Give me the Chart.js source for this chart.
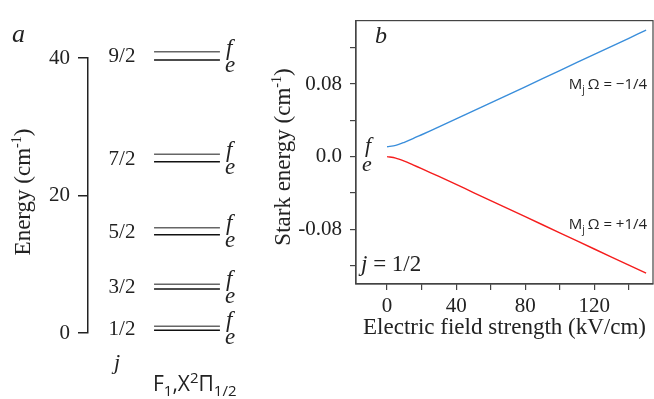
<!DOCTYPE html>
<html>
<head>
<meta charset="utf-8">
<script src="https://cdn.jsdelivr.net/npm/chart.js@4/dist/chart.umd.min.js"></script>
<style>
  html, body { margin: 0; padding: 0; background: #fff; }
  #wrap { position: relative; width: 654px; height: 399px; overflow: hidden; }
  #left { position: absolute; left: 0; top: 0; width: 260px; height: 399px; }
  #right { position: absolute; left: 260px; top: 0; width: 394px; height: 399px; }
</style>
</head>
<body>
<div id="wrap">
  <div id="left"><canvas id="levels"></canvas></div>
  <div id="right"><canvas id="stark"></canvas></div>
</div>
<script>
// panel a: rotational levels (cm-1), e and f parity components
const J_LABELS = ['1/2', '3/2', '5/2', '7/2', '9/2'];
const E_LEVELS = [0.4, 6.4, 14.3, 24.9, 39.7];
const F_LEVELS = [1.0, 7.1, 15.3, 26.0, 40.9];
const ENERGY_TICKS = [0, 20, 40];

// panel b: Stark shift of j = 1/2 vs field (kV/cm)
const FIELD = [0, 5, 10, 15, 20, 30, 40, 50, 60, 80, 100, 120, 140, 150];
const STARK_UP = [0.0108, 0.0124, 0.0158, 0.0198, 0.0241, 0.0327, 0.0415, 0.0504, 0.0593, 0.0770, 0.0949, 0.1127, 0.1305, 0.1395];
const STARK_DOWN = [0, -0.0016, -0.0050, -0.0091, -0.0133, -0.0219, -0.0307, -0.0396, -0.0485, -0.0662, -0.0841, -0.1019, -0.1197, -0.1286];
const FIELD_TICKS = [0, 20, 40, 60, 80, 100, 120, 140];
const FIELD_LABELS = [0, 40, 80, 120];
const STARK_TICKS = [-0.12, -0.08, -0.04, 0, 0.04, 0.08, 0.12];
const STARK_LABELS = [-0.08, 0, 0.08];

const SERIF = '"Liberation Serif", "Times New Roman", serif';
const SANS = '"Open Sans", "DejaVu Sans", sans-serif';
const INK = '#222';

// x extent of the level bars in the (hidden) 0..1 x scale
const BAR_X0 = 0.384;
const BAR_X1 = 0.767;

function levelDataset(y, color) {
  return {
    data: [{x: BAR_X0, y: y}, {x: BAR_X1, y: y}],
    borderColor: color,
    borderWidth: 1.5,
    pointRadius: 0,
    clip: false,
  };
}

const levelDatasets = [];
for (let i = 0; i < J_LABELS.length; i++) {
  levelDatasets.push(levelDataset(F_LEVELS[i], '#666'));
  levelDatasets.push(levelDataset(E_LEVELS[i], '#111'));
}

// rotated axis title with a real superscript: pieces are [text, size, raise]
function verticalTitle(ctx, cx, cy, pieces) {
  ctx.save();
  ctx.translate(cx, cy);
  ctx.rotate(-Math.PI / 2);
  ctx.fillStyle = INK;
  ctx.textAlign = 'left';
  ctx.textBaseline = 'alphabetic';
  let total = 0;
  for (const p of pieces) {
    ctx.font = p[1] + 'px ' + SERIF;
    total += ctx.measureText(p[0]).width;
  }
  let x = -total / 2;
  for (const p of pieces) {
    ctx.font = p[1] + 'px ' + SERIF;
    ctx.fillText(p[0], x, 8 - p[2]);
    x += ctx.measureText(p[0]).width;
  }
  ctx.restore();
}

function inlineText(ctx, x, base, pieces, family) {
  for (const p of pieces) {
    ctx.font = (p[3] || '') + p[1] + 'px ' + family;
    ctx.fillText(p[0], x, base - p[2]);
    x += ctx.measureText(p[0]).width;
  }
}

const levelText = {
  id: 'level_text',
  afterDraw: (chart) => {
    const ctx = chart.ctx;
    const ys = chart.scales.y;
    const xs = chart.scales.x;
    ctx.save();
    ctx.fillStyle = INK;
    for (let i = 0; i < J_LABELS.length; i++) {
      const yf = ys.getPixelForValue(F_LEVELS[i]);
      const ye = ys.getPixelForValue(E_LEVELS[i]);
      const mid = (yf + ye) / 2;
      ctx.font = '21px ' + SERIF;
      ctx.textAlign = 'center';
      ctx.textBaseline = 'middle';
      ctx.fillText(J_LABELS[i], 122, mid + 1);
      const xr = xs.getPixelForValue(BAR_X1);
      ctx.font = 'italic 23px ' + SERIF;
      ctx.textAlign = 'left';
      ctx.textBaseline = 'alphabetic';
      ctx.fillText('f', xr + 6, mid - 1);
      ctx.fillText('e', xr + 5, mid + 16);
    }
    ctx.font = 'italic 26px ' + SERIF;
    ctx.fillText('a', 12, 42);
    ctx.font = 'italic 22px ' + SERIF;
    ctx.fillText('j', 114, 369);

    // state label F1,X2Π1/2
    inlineText(ctx, 153, 391, [
      ['F', 21, 0], ['1', 15, -5], [',', 21, 0], ['X', 21, 0],
      ['2', 15, 8], ['Π', 21, 0], ['1/2', 15, -5]
    ], SANS);
    ctx.restore();

    verticalTitle(ctx, 22, 192, [['Energy (cm', 23, 0], ['-1', 14, 9], [')', 23, 0]]);
  }
};

new Chart(document.getElementById('levels'), {
  type: 'line',
  data: { datasets: levelDatasets },
  plugins: [levelText],
  options: {
    animation: false,
    responsive: true,
    maintainAspectRatio: false,
    layout: { padding: { top: 58, bottom: 66, left: 0, right: 0 } },
    plugins: { legend: { display: false }, tooltip: { enabled: false } },
    scales: {
      x: { type: 'linear', min: 0, max: 1, display: false },
      y: {
        type: 'linear',
        min: 0,
        max: 40,
        afterBuildTicks: (scale) => { scale.ticks = ENERGY_TICKS.map(v => ({value: v})); },
        afterFit: (scale) => { scale.width = 88; },
        grid: { drawOnChartArea: false, drawTicks: true, tickLength: 10, color: INK, lineWidth: 1.5 },
        border: { display: true, color: INK, width: 1.5 },
        ticks: { color: INK, padding: 8, font: { family: SERIF, size: 21 } },
        title: { display: false }
      }
    }
  }
});

function curve(values, color) {
  return {
    data: FIELD.map((f, i) => ({x: f, y: values[i]})),
    borderColor: color,
    borderWidth: 1.4,
    pointRadius: 0,
    tension: 0.3,
  };
}

function drawMOmega(ctx, xRight, yMid, tail) {
  const big = '15px ' + SANS;
  const small = '10px ' + SANS;
  ctx.font = big;
  const wM = ctx.measureText('M').width;
  const wT = ctx.measureText(tail).width;
  ctx.font = small;
  const wj = ctx.measureText('j').width;
  let x = xRight - (wM + wj + 3 + wT);
  ctx.textAlign = 'left';
  ctx.textBaseline = 'alphabetic';
  ctx.font = big;
  ctx.fillText('M', x, yMid + 5);
  x += wM;
  ctx.font = small;
  ctx.fillText('j', x, yMid + 9);
  x += wj + 3;
  ctx.font = big;
  ctx.fillText(tail, x, yMid + 5);
}

const starkText = {
  id: 'stark_text',
  afterDraw: (chart) => {
    const ctx = chart.ctx;
    const xs = chart.scales.x;
    const ys = chart.scales.y;
    const a = chart.chartArea;
    ctx.save();
    // frame
    ctx.strokeStyle = '#444';
    ctx.lineWidth = 1.2;
    ctx.strokeRect(a.left, a.top, a.right - a.left, a.bottom - a.top);

    ctx.fillStyle = INK;
    ctx.font = 'italic 24px ' + SERIF;
    ctx.textAlign = 'left';
    ctx.fillText('b', a.left + 19, 43);

    const x0 = xs.getPixelForValue(FIELD[0]);
    ctx.font = 'italic 22px ' + SERIF;
    ctx.fillText('f', x0 - 22, ys.getPixelForValue(STARK_UP[0]) + 5);
    ctx.fillText('e', x0 - 25, ys.getPixelForValue(STARK_DOWN[0]) + 14);

    inlineText(ctx, a.left + 5, 271, [['j', 23, 0, 'italic '], [' = 1/2', 23, 0]], SERIF);

    const xr = xs.getPixelForValue(150) + 1;
    drawMOmega(ctx, xr, ys.getPixelForValue(0.08), 'Ω = −1/4');
    drawMOmega(ctx, xr, ys.getPixelForValue(-0.074), 'Ω = +1/4');
    ctx.restore();

    verticalTitle(ctx, 22, 157, [['Stark energy (cm', 23, 0], ['-1', 14, 9], [')', 23, 0]]);
  }
};

new Chart(document.getElementById('stark'), {
  type: 'line',
  data: {
    datasets: [curve(STARK_UP, '#3a8edb'), curve(STARK_DOWN, '#f51d1d')]
  },
  plugins: [starkText],
  options: {
    animation: false,
    responsive: true,
    maintainAspectRatio: false,
    layout: { padding: { top: 15, right: 1, left: 0, bottom: 0 } },
    plugins: { legend: { display: false }, tooltip: { enabled: false } },
    scales: {
      x: {
        type: 'linear',
        min: -18,
        max: 154,
        afterBuildTicks: (scale) => { scale.ticks = FIELD_TICKS.map(v => ({value: v})); },
        afterFit: (scale) => { scale.height = 115; },
        grid: { drawOnChartArea: false, drawTicks: true, tickLength: 6, color: '#444', lineWidth: 1.2 },
        border: { display: true, color: '#444', width: 1.2 },
        ticks: {
          autoSkip: false,
          maxRotation: 0,
          color: INK,
          padding: 4,
          font: { family: SERIF, size: 21 },
          callback: (value) => FIELD_LABELS.includes(value) ? String(value) : ''
        },
        title: {
          display: true,
          text: 'Electric field strength (kV/cm)',
          color: INK,
          padding: { top: 0, bottom: 57 },
          font: { family: SERIF, size: 23 }
        }
      },
      y: {
        type: 'linear',
        min: -0.1405,
        max: 0.150,
        afterBuildTicks: (scale) => { scale.ticks = STARK_TICKS.map(v => ({value: v})); },
        afterFit: (scale) => { scale.width = 96; },
        grid: { drawOnChartArea: false, drawTicks: true, tickLength: 6, color: '#444', lineWidth: 1.2 },
        border: { display: true, color: '#444', width: 1.2 },
        ticks: {
          autoSkip: false,
          color: INK,
          padding: 8,
          font: { family: SERIF, size: 21 },
          callback: (value) => {
            const v = Math.round(value * 100) / 100;
            if (!STARK_LABELS.includes(v)) return '';
            return v === 0 ? '0.0' : v.toFixed(2);
          }
        },
        title: { display: false }
      }
    }
  }
});
</script>
</body>
</html>
